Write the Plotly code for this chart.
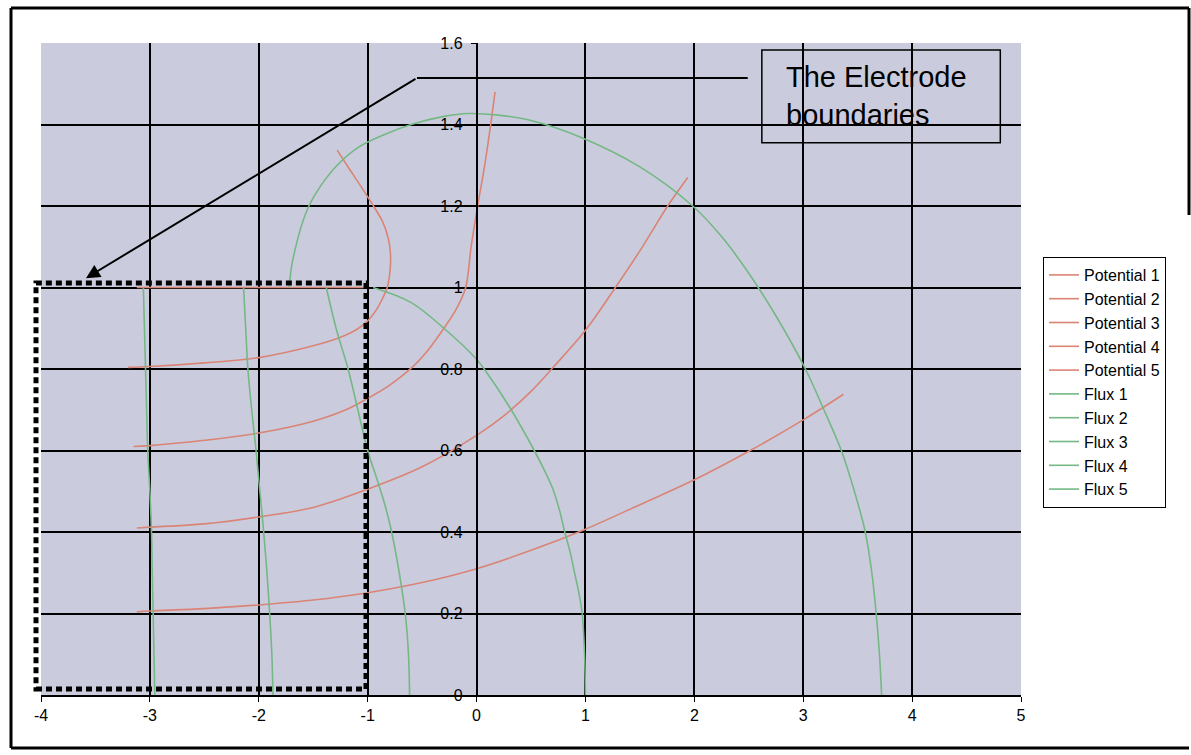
import plotly.graph_objects as go

# ---- data ----
pot1_x = [-3.12, -3.0, -2.5, -2.0, -1.5, -1.0, -0.5, 0.0, 0.5, 1.0, 1.5, 2.0, 2.5, 3.0, 3.37]
pot1_y = [0.204, 0.206, 0.212, 0.221, 0.233, 0.251, 0.276, 0.31, 0.355, 0.407, 0.467, 0.528, 0.598, 0.675, 0.738]

pot2_x = [-3.12, -3.0, -2.5, -2.0, -1.5, -1.0, -0.5, 0.0, 0.25, 0.5, 0.7, 1.0, 1.275, 1.5, 1.755, 1.94]
pot2_y = [0.41, 0.412, 0.42, 0.437, 0.46, 0.505, 0.56, 0.637, 0.685, 0.745, 0.803, 0.895, 1.0, 1.09, 1.2, 1.27]

pot3_x = [-3.15, -3.0, -2.5, -2.0, -1.5, -1.2, -1.0, -0.8, -0.6, -0.45, -0.3, -0.18, -0.1, -0.05, 0.01, 0.075, 0.13, 0.17]
pot3_y = [0.61, 0.612, 0.625, 0.643, 0.672, 0.70, 0.728, 0.76, 0.802, 0.845, 0.9, 0.95, 1.0, 1.1, 1.2, 1.3, 1.4, 1.48]

pot4_x = [-3.2, -3.0, -2.5, -2.0, -1.5, -1.25, -1.1, -1.0, -0.92, -0.86, -0.82, -0.795, -0.79, -0.81, -0.86, -0.97, -1.19, -1.28]
pot4_y = [0.804, 0.806, 0.815, 0.828, 0.857, 0.878, 0.897, 0.918, 0.945, 0.975, 1.0, 1.04, 1.08, 1.12, 1.16, 1.21, 1.3, 1.337]

pot5_x = [-3.12, -1.0]
pot5_y = [1.0, 1.0]

flux1_x = [-3.06, -3.05, -3.04, -3.03, -3.02, -3.0, -2.985, -2.978, -2.97, -2.955]
flux1_y = [1.0, 0.9, 0.8, 0.7, 0.6, 0.5, 0.4, 0.3, 0.2, 0.0]

flux2_x = [-2.14, -2.12, -2.10, -2.065, -2.025, -1.99, -1.955, -1.925, -1.90, -1.88, -1.87]
flux2_y = [1.0, 0.9, 0.8, 0.7, 0.6, 0.5, 0.4, 0.3, 0.2, 0.1, 0.0]

flux3_x = [-1.38, -1.29, -1.18, -1.09, -1.0, -0.915, -0.84, -0.78, -0.71, -0.655, -0.625, -0.615]
flux3_y = [1.0, 0.9, 0.8, 0.7, 0.6, 0.53, 0.465, 0.4, 0.3, 0.2, 0.1, 0.0]

flux4_x = [-0.95, -0.6, -0.3, 0.0, 0.07, 0.3, 0.53, 0.62, 0.70, 0.76, 0.81, 0.86, 0.9, 0.94, 0.97, 0.992, 1.0]
flux4_y = [1.0, 0.963, 0.90, 0.824, 0.8, 0.708, 0.6, 0.553, 0.506, 0.455, 0.4, 0.35, 0.3, 0.25, 0.2, 0.1, 0.0]

flux5_x = [-1.72, -1.70, -1.66, -1.61, -1.54, -1.43, -1.28, -1.08, -0.85, -0.6, -0.3, -0.08, 0.2, 0.5, 0.945,
           1.5, 1.985, 2.25, 2.5, 2.75, 3.02, 3.19, 3.35, 3.47, 3.57, 3.63, 3.67, 3.70, 3.72]
flux5_y = [1.0, 1.05, 1.1, 1.15, 1.2, 1.25, 1.3, 1.345, 1.375, 1.40, 1.42, 1.427, 1.423, 1.41, 1.37,
           1.296, 1.2, 1.125, 1.035, 0.93, 0.8, 0.7, 0.6, 0.5, 0.4, 0.3, 0.2, 0.1, 0.0]

x_ticks = [-4, -3, -2, -1, 0, 1, 2, 3, 4, 5]
x_tick_text = ["-4", "-3", "-2", "-1", "0", "1", "2", "3", "4", "5"]
y_ticks = [0, 0.2, 0.4, 0.6, 0.8, 1.0, 1.2, 1.4, 1.6]
y_tick_text = ["0", "0.2", "0.4", "0.6", "0.8", "1", "1.2", "1.4", "1.6"]

annot_text = "The Electrode<br>boundaries"

RED = "#DA8476"
GREEN = "#74B884"
FONT = "Arial, Liberation Sans, sans-serif"

series = [
    ("Potential 1", pot1_x, pot1_y, RED),
    ("Potential 2", pot2_x, pot2_y, RED),
    ("Potential 3", pot3_x, pot3_y, RED),
    ("Potential 4", pot4_x, pot4_y, RED),
    ("Potential 5", pot5_x, pot5_y, RED),
    ("Flux 1", flux1_x, flux1_y, GREEN),
    ("Flux 2", flux2_x, flux2_y, GREEN),
    ("Flux 3", flux3_x, flux3_y, GREEN),
    ("Flux 4", flux4_x, flux4_y, GREEN),
    ("Flux 5", flux5_x, flux5_y, GREEN),
]

fig = go.Figure()
for name, xs, ys, col in series:
    fig.add_trace(go.Scatter(x=xs, y=ys, mode="lines", name=name,
                             line=dict(color=col, width=1.6, shape="spline", smoothing=1.0)))

W, H = 1191, 755
L, R, T, B = 41, 170, 43, 60
pw, ph = W - L - R, H - T - B

def px_x(p):
    return (p - L) / pw

def px_y(p):
    return (H - B - p) / ph

fig.update_layout(
    width=W, height=H,
    margin=dict(l=L, r=R, t=T, b=B),
    paper_bgcolor="white",
    plot_bgcolor="#CACCDD",
    font=dict(family=FONT, color="black", size=15),
    showlegend=True,
    legend=dict(x=px_x(1043), y=px_y(257), xanchor="left", yanchor="top",
                bgcolor="white", bordercolor="black", borderwidth=1,
                font=dict(family=FONT, size=16, color="black")),
    xaxis=dict(range=[-4, 5], tickvals=x_ticks, ticktext=x_tick_text,
               showgrid=True, gridcolor="black", gridwidth=1.5,
               zeroline=False, showline=True, linecolor="black", linewidth=1.5,
               ticks="outside", ticklen=5, tickcolor="black",
               tickfont=dict(size=16, color="black"), fixedrange=True),
    yaxis=dict(range=[0, 1.6], tickvals=y_ticks, ticktext=y_tick_text,
               anchor="free", position=4 / 9,
               showgrid=True, gridcolor="black", gridwidth=1.5,
               zeroline=False, showline=True, linecolor="black", linewidth=1.5,
               ticks="outside", ticklen=5, tickcolor="black", ticklabelstandoff=5,
               tickfont=dict(size=16, color="black"), fixedrange=True),
)

# dotted electrode boundary rectangle
fig.add_shape(type="rect", xref="paper", yref="y",
              x0=px_x(36), x1=px_x(366), y0=0.015, y1=1.011,
              line=dict(color="black", width=5, dash="6px,4px"))

# leader line + arrow
fig.add_shape(type="line", xref="x", yref="y", x0=-0.547, y0=1.514, x1=2.49, y1=1.514,
              line=dict(color="black", width=2))
fig.add_annotation(x=-3.587, y=1.023, ax=-0.547, ay=1.514, xref="x", yref="y",
                   axref="x", ayref="y", text="", showarrow=True,
                   arrowhead=2, arrowsize=1.4, arrowwidth=2, arrowcolor="black")

# text box
fig.add_shape(type="rect", xref="x", yref="y", x0=2.62, x1=4.81, y0=1.355, y1=1.583,
              line=dict(color="black", width=1.5))
fig.add_annotation(x=2.82, y=1.56, xref="x", yref="y", text=annot_text,
                   showarrow=False, xanchor="left", yanchor="top", align="left",
                   font=dict(family=FONT, size=29, color="black"))

# outer frame
frame = dict(color="black", width=3)
fx0, fx1 = px_x(11), px_x(1189)
fy0, fy1 = px_y(748), px_y(8)
fig.add_shape(type="line", xref="paper", yref="paper", x0=fx0, y0=fy1, x1=fx1, y1=fy1, line=frame)
fig.add_shape(type="line", xref="paper", yref="paper", x0=fx0, y0=fy0, x1=fx0, y1=fy1, line=frame)
fig.add_shape(type="line", xref="paper", yref="paper", x0=fx0, y0=fy0, x1=fx1, y1=fy0, line=frame)
fig.add_shape(type="line", xref="paper", yref="paper", x0=fx1, y0=px_y(215), x1=fx1, y1=fy1, line=frame)

fig.write_html("out.html", config={"displayModeBar": False},
               post_script="document.body.style.margin='0px';")
